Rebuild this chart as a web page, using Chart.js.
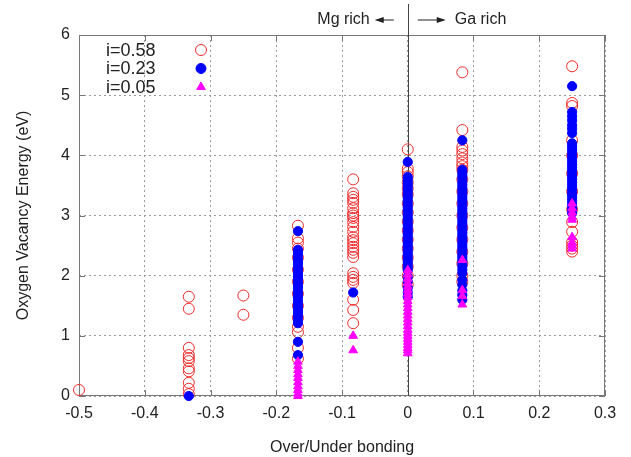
<!DOCTYPE html>
<html lang="en">
<head>
  <meta charset="UTF-8" />
  <title>Oxygen Vacancy Energy</title>
  <script src="https://cdn.jsdelivr.net/npm/chart.js"></script>
  <style>
    html, body { margin: 0; padding: 0; background: #fff; }
    #wrap { width: 631px; height: 457px; }
  </style>
</head>
<body>
  <div id="wrap"><canvas id="chart"></canvas></div>

  <script>
    // bonding positions (x) for each column
    const xPositions = [-0.5, -0.333, -0.25, -0.167, -0.083, 0, 0.083, 0.25];

    // energies per column, same order as xPositions
    const i058 = [
      [0.1],
      [1.65, 1.45, 0.8, 0.68, 0.63, 0.58, 0.46, 0.41, 0.22, 0.12, 0.03],
      [1.67, 1.35],
      [2.83, 2.62, 2.55, 2.45, 2.3, 2.1, 1.9, 1.7, 1.5, 1.3, 1.15, 1.06, 0.8, 0.62],
      [3.6, 3.37, 3.31, 3.26, 3.21, 3.12, 3.04, 3.0, 2.96, 2.89, 2.81, 2.73, 2.64, 2.59, 2.54,
       2.48, 2.43, 2.38, 2.31, 2.04, 1.98, 1.93, 1.88, 1.6, 1.43, 1.21],
      [4.1, 3.78, 3.72, 3.65, 3.55, 3.45, 3.35, 3.2, 3.05, 2.9, 2.75, 2.6, 2.45, 2.3, 2.15, 2.0, 1.85],
      [5.38, 4.42, 4.14, 4.08, 4.02, 3.95, 3.88, 3.82, 3.76, 3.6, 3.4, 3.2, 3.0, 2.8, 2.6, 2.4, 2.2, 2.0, 1.9],
      [5.48, 4.87, 4.82, 4.25, 4.0, 3.7, 3.4, 3.1, 2.89, 2.73, 2.56, 2.5, 2.45, 2.4]
    ];

    const i023 = [
      [],
      [0],
      [],
      [2.74, 2.43, 2.39, 2.34, 2.28, 2.24, 2.19, 2.13, 2.09, 2.03, 1.98, 1.94, 1.88, 1.83, 1.79,
       1.73, 1.68, 1.64, 1.58, 1.53, 1.48, 1.43, 1.38, 1.33, 1.27, 1.21, 0.9, 0.68],
      [1.72],
      [3.89, 3.64, 3.59, 3.54, 3.49, 3.44, 3.39, 3.34, 3.29, 3.24, 3.19, 3.14, 3.09, 3.04, 2.99,
       2.94, 2.89, 2.84, 2.79, 2.74, 2.69, 2.64, 2.59, 2.54, 2.49, 2.44, 2.39, 2.34, 2.29, 2.24,
       2.19, 2.14, 2.09, 1.98, 1.9, 1.8, 1.72, 1.65],
      [4.25, 3.76, 3.71, 3.66, 3.61, 3.56, 3.51, 3.46, 3.41, 3.36, 3.31, 3.26, 3.21, 3.16, 3.11,
       3.06, 3.01, 2.96, 2.91, 2.86, 2.81, 2.76, 2.71, 2.66, 2.61, 2.56, 2.51, 2.46, 2.41, 2.36,
       2.31, 2.26, 2.21, 2.16, 2.1, 2.04, 1.93, 1.85, 1.75, 1.68, 1.6],
      [5.15, 4.72, 4.65, 4.58, 4.5, 4.44, 4.37, 4.2, 4.15, 4.1, 4.05, 4.0, 3.95, 3.9, 3.85, 3.8,
       3.75, 3.7, 3.65, 3.6, 3.55, 3.5, 3.45, 3.4, 3.35, 3.3, 3.25, 3.2, 3.15, 3.1, 3.04]
    ];

    const i005 = [
      [],
      [],
      [],
      [0.57, 0.5, 0.43, 0.36, 0.3, 0.23, 0.16, 0.1, 0.04, 0.0],
      [1.0, 0.76],
      [2.09, 2.02, 1.95, 1.88, 1.82, 1.76, 1.7, 1.64, 1.58, 1.52, 1.46, 1.4, 1.34, 1.28, 1.22,
       1.16, 1.1, 1.05, 1.0, 0.95, 0.9, 0.85, 0.8, 0.76, 0.71],
      [2.26, 1.76, 1.66, 1.52],
      [3.2, 3.12, 3.05, 2.98, 2.93, 2.64, 2.55, 2.5, 2.45]
    ];

    const xTicks = [-0.5, -0.4, -0.3, -0.2, -0.1, 0, 0.1, 0.2, 0.3];
    const yTicks = [0, 1, 2, 3, 4, 5, 6];

    const toPoints = (cols) => cols.flatMap((ys, k) => ys.map(y => ({ x: xPositions[k], y })));

    const FONT = "'Liberation Sans', Arial, sans-serif";
    const RED = "#ee2a2a";
    const BLUE = "#0000ff";
    const MAGENTA = "#ff00ff";

    // frame, inner ticks, divider line, top notes and the key
    const decorations = {
      id: "decorations",
      beforeDatasetsDraw(chart) {
        const { ctx, chartArea: a, scales } = chart;
        const xs = scales.x, ys = scales.y;
        ctx.save();
        ctx.strokeStyle = "#777";
        ctx.lineWidth = 1;
        ctx.strokeRect(a.left + 0.5, a.top + 0.5, a.right - a.left - 1, a.bottom - a.top - 1);
        ctx.beginPath();
        xTicks.forEach(v => {
          const px = Math.round(xs.getPixelForValue(v)) + 0.5;
          ctx.moveTo(px, a.bottom); ctx.lineTo(px, a.bottom - 6);
          ctx.moveTo(px, a.top); ctx.lineTo(px, a.top + 6);
        });
        yTicks.forEach(v => {
          const py = Math.round(ys.getPixelForValue(v)) + 0.5;
          ctx.moveTo(a.left, py); ctx.lineTo(a.left + 6, py);
          ctx.moveTo(a.right, py); ctx.lineTo(a.right - 6, py);
        });
        ctx.stroke();

        // Mg rich | Ga rich divider
        const x0 = Math.round(xs.getPixelForValue(0)) + 0.5;
        ctx.strokeStyle = "#444";
        ctx.beginPath();
        ctx.moveTo(x0, 4); ctx.lineTo(x0, a.bottom);
        ctx.stroke();
        ctx.restore();
      },
      afterDraw(chart) {
        const { ctx, scales } = chart;
        const x0 = scales.x.getPixelForValue(0);
        ctx.save();
        ctx.fillStyle = "#222";
        ctx.strokeStyle = "#222";
        ctx.font = "16px " + FONT;
        ctx.textBaseline = "middle";
        ctx.textAlign = "right";
        ctx.fillText("Mg rich", x0 - 38, 20);
        ctx.textAlign = "left";
        ctx.fillText("Ga rich", x0 + 47, 20);
        // arrows
        ctx.lineWidth = 1;
        ctx.beginPath();
        ctx.moveTo(x0 - 31, 20); ctx.lineTo(x0 - 14, 20);
        ctx.moveTo(x0 + 10, 20); ctx.lineTo(x0 + 36, 20);
        ctx.stroke();
        ctx.beginPath();
        ctx.moveTo(x0 - 33, 20); ctx.lineTo(x0 - 24, 17); ctx.lineTo(x0 - 24, 23); ctx.closePath();
        ctx.moveTo(x0 + 38, 20); ctx.lineTo(x0 + 29, 17); ctx.lineTo(x0 + 29, 23); ctx.closePath();
        ctx.fill();

        // key
        const rows = [
          { label: "i=0.58", style: "circle", fill: "rgba(0,0,0,0)", stroke: RED, r: 5.5 },
          { label: "i=0.23", style: "circle", fill: BLUE, stroke: BLUE, r: 5 },
          { label: "i=0.05", style: "triangle", fill: MAGENTA, stroke: MAGENTA, r: 5 }
        ];
        ctx.font = "18px " + FONT;
        ctx.textAlign = "left";
        rows.forEach((row, k) => {
          const y = 50 + k * 18.5;
          ctx.fillStyle = "#222";
          ctx.fillText(row.label, 106, y + 1);
          ctx.fillStyle = row.fill;
          ctx.strokeStyle = row.stroke;
          ctx.lineWidth = 1;
          Chart.helpers.drawPoint(ctx, { pointStyle: row.style, radius: row.r, borderWidth: 1, rotation: 0 }, 201, y);
        });
        ctx.restore();
      }
    };

    new Chart(document.getElementById("chart"), {
      type: "scatter",
      data: {
        datasets: [
          {
            label: "i=0.58",
            data: toPoints(i058),
            pointStyle: "circle",
            pointRadius: 5.5,
            borderWidth: 1,
            borderColor: RED,
            backgroundColor: "rgba(0,0,0,0)",
            clip: false,
            order: 3
          },
          {
            label: "i=0.23",
            data: toPoints(i023),
            pointStyle: "circle",
            pointRadius: 4.6,
            borderWidth: 1,
            borderColor: BLUE,
            backgroundColor: BLUE,
            clip: false,
            order: 2
          },
          {
            label: "i=0.05",
            data: toPoints(i005),
            pointStyle: "triangle",
            pointRadius: 5,
            borderWidth: 1,
            borderColor: MAGENTA,
            backgroundColor: MAGENTA,
            clip: false,
            order: 1
          }
        ]
      },
      options: {
        responsive: true,
        maintainAspectRatio: false,
        animation: false,
        events: [],
        layout: { padding: { top: 35, right: 26, left: 0, bottom: 0 } },
        plugins: {
          legend: { display: false },
          tooltip: { enabled: false }
        },
        scales: {
          x: {
            type: "linear",
            min: -0.5,
            max: 0.3,
            afterBuildTicks: (s) => { s.ticks = xTicks.map(v => ({ value: v })); },
            afterFit: (s) => { s.height = 61; },
            grid: { color: "#9a9a9a", lineWidth: 1, drawTicks: false },
            border: { display: false, dash: [2, 3] },
            ticks: {
              padding: 8,
              color: "#222",
              font: { family: FONT, size: 16 },
              callback: (v) => String(Number(Number(v).toFixed(1)))
            },
            title: {
              display: true,
              text: "Over/Under bonding",
              color: "#222",
              font: { family: FONT, size: 16 },
              padding: { top: 4, bottom: 0 }
            }
          },
          y: {
            type: "linear",
            min: 0,
            max: 6,
            afterBuildTicks: (s) => { s.ticks = yTicks.map(v => ({ value: v })); },
            afterFit: (s) => { s.width = 79; },
            grid: { color: "#9a9a9a", lineWidth: 1, drawTicks: false },
            border: { display: false, dash: [2, 3] },
            ticks: {
              padding: 9,
              color: "#222",
              font: { family: FONT, size: 16 },
              callback: (v) => String(v)
            },
            title: {
              display: true,
              text: "Oxygen Vacancy Energy (eV)",
              color: "#222",
              font: { family: FONT, size: 16 },
              padding: { top: 14, bottom: 0 }
            }
          }
        }
      },
      plugins: [decorations]
    });
  </script>
</body>
</html>
